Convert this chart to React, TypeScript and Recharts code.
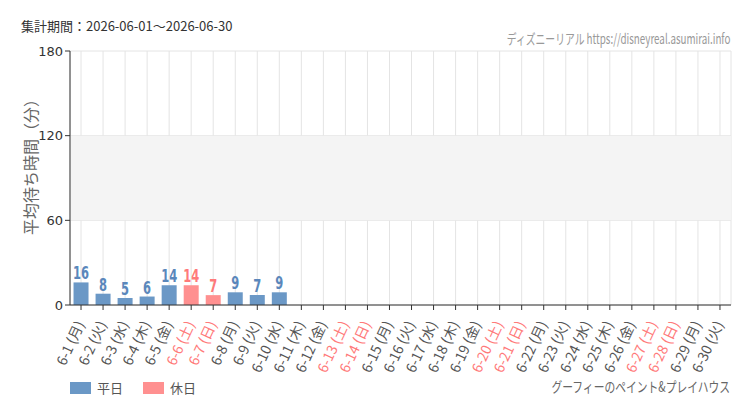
import React from 'react';
import { BarChart, Bar, XAxis, YAxis, CartesianGrid, ReferenceArea, Cell, LabelList } from 'recharts';

const dates = [
  '6-1', '6-2', '6-3', '6-4', '6-5', '6-6', '6-7', '6-8', '6-9', '6-10',
  '6-11', '6-12', '6-13', '6-14', '6-15', '6-16', '6-17', '6-18', '6-19', '6-20',
  '6-21', '6-22', '6-23', '6-24', '6-25', '6-26', '6-27', '6-28', '6-29', '6-30',
];
const weekdays = [
  '月', '火', '水', '木', '金', '土', '日', '月', '火', '水',
  '木', '金', '土', '日', '月', '火', '水', '木', '金', '土',
  '日', '月', '火', '水', '木', '金', '土', '日', '月', '火',
];
const waitMinutes: (number | null)[] = [
  16, 8, 5, 6, 14, 14, 7, 9, 7, 9,
  null, null, null, null, null, null, null, null, null, null,
  null, null, null, null, null, null, null, null, null, null,
];
const yTicks = [0, 60, 120, 180];

const BLUE = '#6b98c6';
const PINK = '#ff9090';
const BLUE_TEXT = '#5a87bb';
const PINK_TEXT = '#ff7a7a';
const JP = '"Noto Sans CJK JP", "Noto Sans", sans-serif';

const isHoliday = (w: string) => w === '土' || w === '日';

const data = dates.map((d, i) => ({
  label: `${d} (${weekdays[i]})`,
  holiday: isHoliday(weekdays[i]),
  value: waitMinutes[i],
}));

const DateTick = (props: any) => {
  const { x, y, payload, index } = props;
  const holiday = data[index]?.holiday;
  return (
    <text
      x={x + 4}
      y={y + 12}
      transform={`rotate(-65, ${x + 4}, ${y + 12})`}
      textAnchor="end"
      fontSize={14}
      fontFamily={JP}
      fill={holiday ? PINK_TEXT : '#555'}
    >
      {payload.value}
    </text>
  );
};

// condensed look: squeeze the glyphs horizontally
const ValueLabel = (props: any) => {
  const { x, y, width, value, index } = props;
  if (value == null) return null;
  const holiday = data[index]?.holiday;
  return (
    <text
      transform={`translate(${x + width / 2}, ${y - 3}) scale(0.72, 1.12)`}
      textAnchor="middle"
      fontSize={16}
      fontWeight={600}
      fontFamily='"DejaVu Sans", sans-serif'
      fill={holiday ? PINK_TEXT : BLUE_TEXT}
    >
      {value}
    </text>
  );
};

export default function App() {
  return (
    <div style={{ position: 'absolute', left: 0, top: 0, width: 750, height: 410, background: '#fff', fontFamily: JP }}>
      <div style={{ position: 'absolute', left: 21, top: 16, fontSize: 13, color: '#333', whiteSpace: 'nowrap' }}>
        集計期間：2026-06-01～2026-06-30
      </div>
      <div
        style={{
          position: 'absolute', right: 20, top: 28, fontSize: 14, color: '#999', whiteSpace: 'nowrap',
          transform: 'scaleX(0.7)', transformOrigin: 'right center',
        }}
      >
        ディズニーリアル https://disneyreal.asumirai.info
      </div>
      <div
        style={{
          position: 'absolute', left: 30, top: 163, fontSize: 16, color: '#666', whiteSpace: 'nowrap',
          transform: 'translate(-50%, -50%) rotate(-90deg)',
        }}
      >
        平均待ち時間（分）
      </div>

      <BarChart
        width={750}
        height={410}
        data={data}
        margin={{ top: 51, right: 19, left: 0, bottom: 0 }}
        barCategoryGap="16%"
      >
        <ReferenceArea y1={60} y2={120} fill="#f4f4f4" fillOpacity={1} strokeOpacity={0} />
        <CartesianGrid stroke="#e4e4e4" />
        <XAxis
          dataKey="label"
          interval={0}
          height={105}
          tick={<DateTick />}
          tickSize={5}
          axisLine={{ stroke: '#333' }}
          tickLine={{ stroke: '#333' }}
        />
        <YAxis
          width={70}
          domain={[0, 180]}
          ticks={yTicks}
          tickSize={5}
          tick={{ fontSize: 13, fill: '#333', fontFamily: '"DejaVu Sans", sans-serif' }}
          axisLine={{ stroke: '#333' }}
          tickLine={{ stroke: '#333' }}
        />
        <Bar dataKey="value" isAnimationActive={false}>
          {data.map((d, i) => (
            <Cell key={i} fill={d.holiday ? PINK : BLUE} />
          ))}
          <LabelList dataKey="value" content={<ValueLabel />} />
        </Bar>
      </BarChart>

      <div style={{ position: 'absolute', left: 70, top: 378, display: 'flex', alignItems: 'center', fontSize: 13, color: '#555' }}>
        <span style={{ display: 'inline-block', width: 21, height: 12, background: BLUE, marginRight: 6 }} />
        <span style={{ marginRight: 20 }}>平日</span>
        <span style={{ display: 'inline-block', width: 21, height: 12, background: PINK, marginRight: 6 }} />
        <span>休日</span>
      </div>
      <div
        style={{
          position: 'absolute', right: 20, top: 376, fontSize: 14, color: '#666', whiteSpace: 'nowrap',
          transform: 'scaleX(0.77)', transformOrigin: 'right center',
        }}
      >
        グーフィーのペイント&amp;プレイハウス
      </div>
    </div>
  );
}
